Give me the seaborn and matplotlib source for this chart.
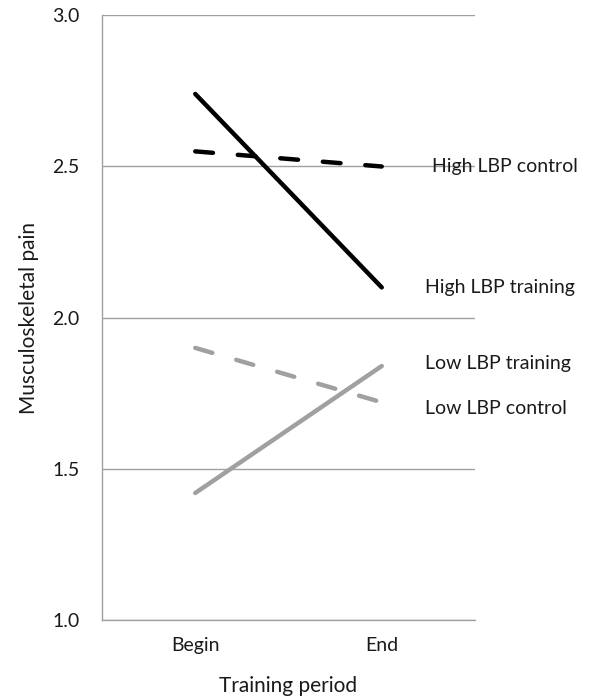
import pandas as pd
import matplotlib.pyplot as plt
import seaborn as sns

# === Datos ===
periodos = ['Begin', 'End']
grupos = ['High LBP training', 'High LBP control', 'Low LBP training', 'Low LBP control']
dolor_high_training = [2.74, 2.10]
dolor_high_control = [2.55, 2.50]
dolor_low_training = [1.42, 1.84]
dolor_low_control = [1.90, 1.72]

valores = [dolor_high_training, dolor_high_control, dolor_low_training, dolor_low_control]
Datos = pd.DataFrame([
    {'Periodo': p, 'Grupo': g, 'Dolor': v}
    for g, serie in zip(grupos, valores)
    for p, v in zip(periodos, serie)
])

# === Estilo ===
sns.set_style('white')
plt.rcParams['font.family'] = ['Lato', 'DejaVu Sans']

gris = '#a0a0a0'
texto = '#1a1a1a'
colores = {'High LBP training': 'black', 'High LBP control': 'black',
           'Low LBP training': gris, 'Low LBP control': gris}
trazos = {'High LBP training': '', 'High LBP control': (4, 5.6),
          'Low LBP training': '', 'Low LBP control': (4, 5.6)}

fig = plt.figure(figsize = (5.93, 6.97), dpi = 100)
ax = fig.add_axes([0.172, 0.1105, 0.629, 0.8675])

sns.lineplot(data = Datos, x = 'Periodo', y = 'Dolor', hue = 'Grupo', style = 'Grupo',
             palette = colores, dashes = trazos, linewidth = 3.2,
             solid_capstyle = 'round', dash_capstyle = 'round', legend = False, ax = ax)

# === Ejes ===
ax.set_xlim(-0.5, 1.5)
ax.set_ylim(1.0, 3.0)
ax.set_yticks([1.0, 1.5, 2.0, 2.5, 3.0])
ax.set_yticklabels(['1.0', '1.5', '2.0', '2.5', '3.0'])
ax.set_xticks([0, 1])
ax.set_xticklabels(periodos)
ax.set_xticks([-0.5, 0.5, 1.5], minor = True)
ax.tick_params(axis = 'x', which = 'major', length = 0, labelsize = 14, pad = 12, labelcolor = texto)
ax.tick_params(axis = 'x', which = 'minor', length = 8, width = 1, color = gris)
ax.tick_params(axis = 'y', length = 6, width = 1, color = gris, labelsize = 14, pad = 10, labelcolor = texto)
ax.yaxis.grid(True, color = gris, linewidth = 1)
for lado in ['top', 'right']:
    ax.spines[lado].set_visible(False)
for lado in ['left', 'bottom']:
    ax.spines[lado].set_color(gris)
    ax.spines[lado].set_linewidth(1)

ax.set_xlabel('Training period', fontsize = 15, labelpad = 16, color = texto)
ax.set_ylabel('Musculoskeletal pain', fontsize = 15, labelpad = 10, color = texto)

# === Etiquetas de las series ===
ax.text(1.27, dolor_high_control[1], 'High LBP control', fontsize = 14, va = 'center', color = texto, clip_on = False)
ax.text(1.232, dolor_high_training[1], 'High LBP training', fontsize = 14, va = 'center', color = texto, clip_on = False)
ax.text(1.232, dolor_low_training[1] + 0.01, 'Low LBP training', fontsize = 14, va = 'center', color = texto, clip_on = False)
ax.text(1.232, dolor_low_control[1] - 0.02, 'Low LBP control', fontsize = 14, va = 'center', color = texto, clip_on = False)

plt.savefig('out.png', dpi = 100)
